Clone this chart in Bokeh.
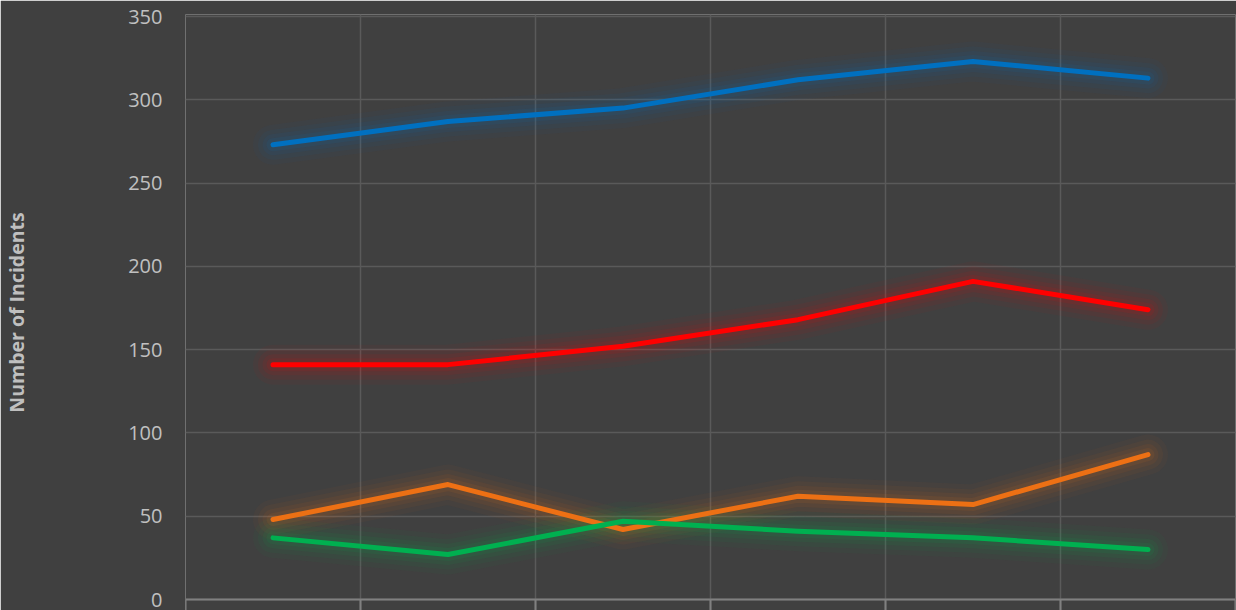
from bokeh.plotting import figure
from bokeh.models import Range1d, FixedTicker, Span, ColumnDataSource
from bokeh.core.properties import value
from bokeh.embed import file_html
from bokeh.resources import INLINE

categories = ["CY2015", "CY2016", "CY2017", "CY2018", "CY2019", "CY2020"]
blue_series = [273, 287, 295, 312, 323, 313]
red_series = [141, 141, 152, 168, 191, 174]
orange_series = [48, 69, 42, 62, 57, 87]
green_series = [37, 27, 47, 41, 37, 30]
y_ticks = [0, 50, 100, 150, 200, 250, 300, 350]

series = [
    (blue_series, "#0070C0"),
    (red_series, "#FF0000"),
    (orange_series, "#ED7014"),
    (green_series, "#00B050"),
]

BG = "#404040"
W, H = 1236, 610
top_b, left_b, right_b = 14, 183, 1
frame_h = H - top_b
px_per_unit = 583 / 350.0
y_end = 350 + 2 / px_per_unit
y_start = y_end - frame_h / px_per_unit

n = len(categories)
xs = [i + 0.5 for i in range(n)]

p = figure(width=W, height=H, output_backend="svg", toolbar_location=None,
           x_range=Range1d(0, n), y_range=Range1d(y_start, y_end),
           min_border_left=left_b, min_border_right=right_b,
           min_border_top=top_b, min_border_bottom=0)
p.background_fill_color = BG
p.border_fill_color = BG
p.outline_line_color = None

p.xaxis.visible = False
p.xgrid.ticker = FixedTicker(ticks=list(range(n + 1)))
p.xgrid.grid_line_color = "#5a5a5a"
p.xgrid.grid_line_width = 1.5
p.ygrid.ticker = FixedTicker(ticks=y_ticks)
p.ygrid.grid_line_color = "#5a5a5a"
p.ygrid.grid_line_width = 1.5

ax = p.yaxis[0]
ax.ticker = FixedTicker(ticks=y_ticks)
ax.axis_line_color = None
ax.major_tick_line_color = None
ax.minor_tick_line_color = None
ax.major_tick_out = 0
ax.major_tick_in = 0
ax.major_label_standoff = 23
ax.major_label_text_font = "Open Sans"
ax.major_label_text_font_size = "20px"
ax.major_label_text_color = "#C0C0C0"
ax.axis_label = "Number of Incidents"
ax.axis_label_text_font = "Open Sans"
ax.axis_label_text_font_style = "bold"
ax.axis_label_text_font_size = "19.5px"
ax.axis_label_text_color = "#BFBFBF"
ax.axis_label_standoff = 95

# glow + lines
for vals, col in series:
    src = ColumnDataSource(dict(x=xs, y=vals))
    for lw, a in [(40, 0.04), (30, 0.05), (21, 0.065), (13, 0.085)]:
        p.line("x", "y", source=src, line_color=col, line_width=lw, line_alpha=a,
               line_cap="round", line_join="round")
for vals, col in series:
    src = ColumnDataSource(dict(x=xs, y=vals))
    p.line("x", "y", source=src, line_color=col, line_width=5,
           line_cap="round", line_join="round")

# category axis: line at zero, separators, labels
p.add_layout(Span(location=0, dimension="width", line_color="#808080", line_width=2))
bounds = list(range(n + 1))
p.segment(x0=bounds, y0=[0] * len(bounds), x1=bounds, y1=[y_start] * len(bounds),
          line_color="#808080", line_width=2)
p.text(x=xs, y=[-9 / px_per_unit] * n, text=categories, text_align="center",
       text_baseline="top", text_font=value("Open Sans"), text_font_size="20px",
       text_color="#BFBFBF")

open("out.html", "w").write(file_html(p, INLINE))
